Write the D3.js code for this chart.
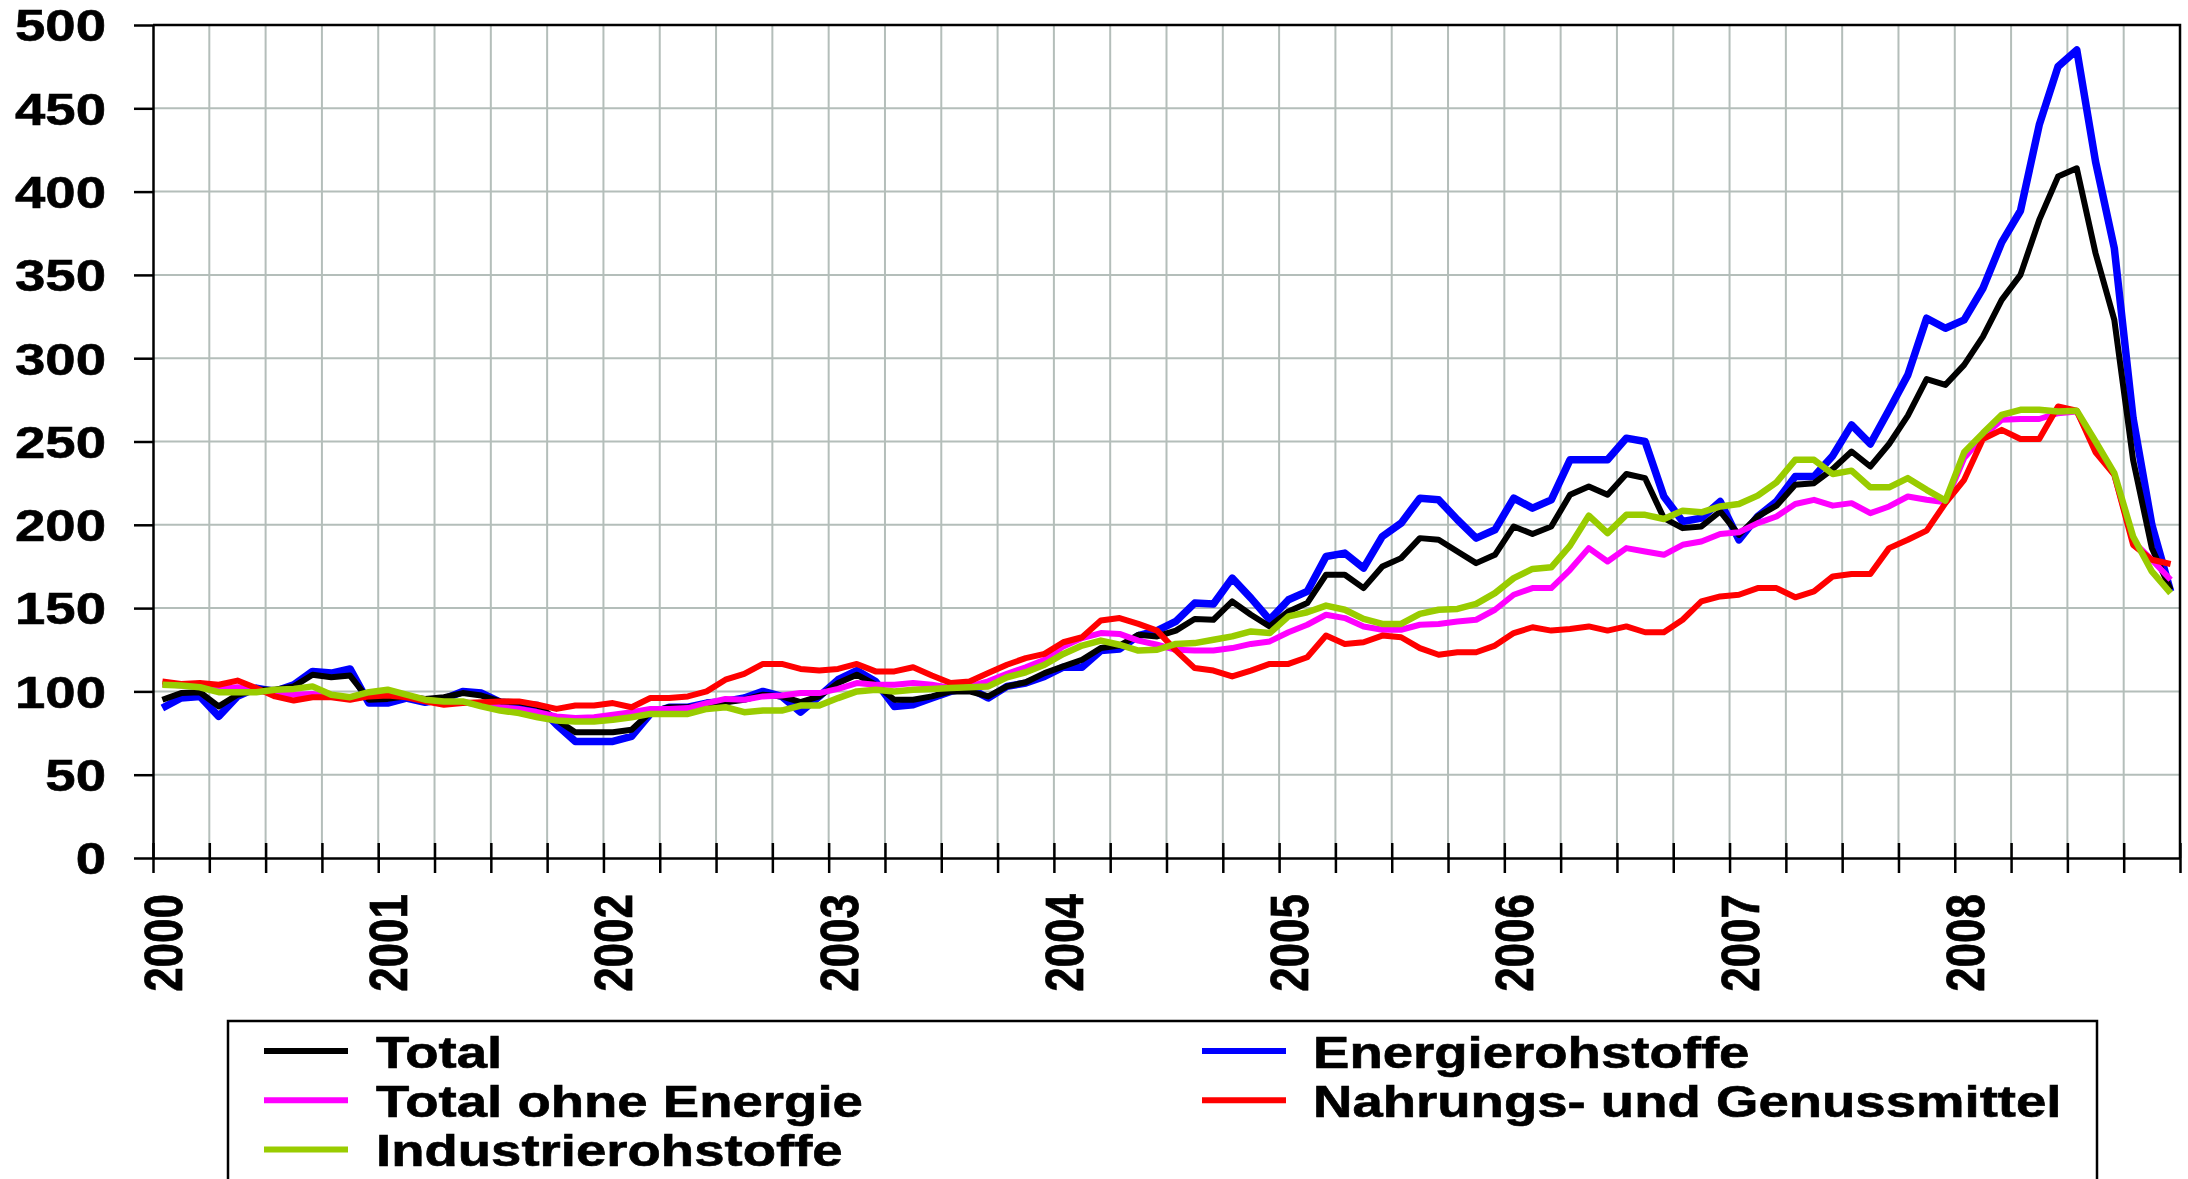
<!DOCTYPE html>
<html>
<head>
<meta charset="utf-8">
<script src="https://cdn.jsdelivr.net/npm/d3@7"></script>
<style>
  body { margin: 0; background: #fff; }
  text { font-family: "Liberation Sans", Arial, sans-serif; font-weight: bold; fill: #000; stroke: #000; stroke-width: 0.6px; }
</style>
</head>
<body>
<script>
// Years on the x axis (one label per January)
var years = ["2000", "2001", "2002", "2003", "2004", "2005", "2006", "2007", "2008"];

// Value axis tick labels
var yTicks = [0, 50, 100, 150, 200, 250, 300, 350, 400, 450, 500];

// Monthly index values, Jan 2000 .. Dec 2008 (one row per year)
var total = [
  95, 99, 99.5, 91, 98, 101, 101, 103, 110, 108.5, 109.5, 95,
  95.5, 97, 95.5, 96.5, 99, 97.5, 94, 93.5, 91.5, 83, 75.5, 75.5,
  75.5, 77, 87.5, 90.5, 90.5, 91.5, 93.5, 95, 98, 97, 93.5, 97,
  105, 110, 104, 95, 95, 97, 100, 100, 97, 103, 105.5, 111,
  115, 119, 126, 127.5, 134, 133, 136.5, 143.5, 143, 154, 146, 139,
  148, 153, 170, 170, 162, 175, 180, 192, 191, 184, 177, 182,
  199, 194.5, 199, 218, 223, 218, 230.5, 228, 204, 198, 199, 208,
  194, 205, 211.5, 224, 225, 233.5, 244, 235, 248.5, 265.5, 287.5, 284,
  296, 313, 335, 350, 383, 409, 414, 363, 323, 239, 186, 161
];
var energie = [
  90, 96, 97, 85, 97, 102, 100, 104, 112, 111, 113.5, 93,
  93, 96, 93.5, 95.5, 100, 99, 93.5, 92.5, 91.5, 80, 70, 70,
  70, 73, 86.5, 90.5, 90.5, 93, 94, 96, 100, 97, 87.5, 97,
  107, 112.5, 106, 91, 92, 96, 100, 102, 96, 103, 105, 109,
  114.5, 114.5, 124.5, 125.5, 133.5, 136.5, 142, 153, 152.5, 168, 156, 143,
  155, 160, 181, 183, 174, 193, 201, 216, 215, 203, 192, 197,
  216, 210, 215, 239, 239, 239, 252, 250, 217, 202, 204, 214,
  191, 205, 214, 229, 229, 241.5, 260, 248.5, 269, 290, 324, 318,
  323, 342, 369.5, 388.5, 440, 475, 485, 418, 366, 264, 200, 160
];
var ohneEnergie = [
  104.5, 103.5, 103.5, 101.5, 102.5, 100, 99.5, 98, 98.5, 97, 96.5, 98.5,
  99, 97.5, 95, 93.5, 93.5, 92, 90.5, 89.5, 87.5, 85, 84, 84.5,
  86, 87.5, 89.5, 89.5, 90, 93, 95.5, 95, 97, 97.5, 99, 99,
  101.5, 105, 104, 104, 105, 104, 102, 103, 106, 110.5, 114.5, 119,
  127, 132, 135, 134.5, 130.5, 128, 125, 124.5, 124.5, 126, 128.5, 130,
  135.5, 140, 146, 144, 139, 137, 137, 140, 140.5, 142, 143, 149,
  158, 162, 162, 173, 186, 178, 186, 184, 182, 188, 190, 194.5,
  195.5, 201, 205, 212.5, 215, 211.5, 213, 207, 211, 217, 215, 213.5,
  240, 253, 263, 263.5, 263.5, 267, 268, 246, 230, 190, 179, 167
];
var nahrung = [
  106, 104.5, 105, 104, 106.5, 102, 97, 94.5, 96.5, 96.5, 95, 97,
  97.5, 96.5, 94, 92, 93, 93.5, 94, 94, 92, 89.5, 91.5, 91.5,
  93, 90.5, 96, 96, 97, 100, 107, 110.5, 116.5, 116.5, 113.5, 112.5,
  113.5, 116.5, 112, 112, 114.5, 109.5, 105, 106, 111, 116, 120, 122.5,
  129.5, 132.5, 142.5, 144, 140.5, 136.5, 124.5, 114, 112.5, 109, 112.5, 116.5,
  116.5, 120.5, 133.5, 128.5, 129.5, 133.5, 132.5, 126, 122, 123.5, 123.5, 127.5,
  135, 138.5, 136.5, 137.5, 139, 136.5, 139, 135.5, 135.5, 143, 154, 157,
  158, 162, 162, 156.5, 160, 169, 170.5, 170.5, 186, 191, 196.5, 213,
  227, 251.5, 257, 251.5, 251.5, 271, 268.5, 243.5, 230, 188, 179, 176.5
];
var industrie = [
  104, 103.5, 102.5, 99.5, 99.5, 99.5, 101, 101.5, 103, 98, 96.5, 99.5,
  101, 98, 95, 94, 94, 91, 88.5, 87, 84.5, 82.5, 82, 82,
  83, 84.5, 86.5, 86.5, 86.5, 89.5, 90.5, 87.5, 88.5, 88.5, 91.5, 91.5,
  96, 100, 101, 100, 101, 101.5, 102, 102.5, 103, 108.5, 111.5, 116,
  122.5, 127.5, 130.5, 128, 124.5, 125, 128.5, 129, 131, 133, 136, 135,
  145, 147.5, 151.5, 149, 143.5, 140.5, 140.5, 146.5, 149, 149.5, 152.5, 159,
  168, 173.5, 174.5, 187.5, 205.5, 195, 206, 206, 203.5, 208.5, 207.5, 211,
  212.5, 217.5, 225.5, 239, 239, 230.5, 232.5, 222.5, 222.5, 228, 221, 214.5,
  243.5, 255, 266, 269, 269, 268, 268.5, 250, 231, 193, 172, 159
];

// Series as listed in the legend (row by row)
var series = [
  { name: "Total", values: total, color: "#000000", width: 6 },
  { name: "Energierohstoffe", values: energie, color: "#0000ff", width: 7.5 },
  { name: "Total ohne Energie", values: ohneEnergie, color: "#ff00ff", width: 6 },
  { name: "Nahrungs- und Genussmittel", values: nahrung, color: "#ff0000", width: 6 },
  { name: "Industrierohstoffe", values: industrie, color: "#99cc00", width: 6.5 }
];
// drawing order, later ones on top
var drawOrder = [1, 0, 2, 3, 4];

var svgWidth = 2188;
var svgHeight = 1179;
var plot = { left: 153, right: 2180, top: 25, bottom: 858 };
var stretch = 1.24;  // the original text is drawn wide
var gridColor = "#b4beba";

var svg = d3.select("body")
  .append("svg")
  .attr("width", svgWidth)
  .attr("height", svgHeight);

var nMonths = years.length * 12;
var xScale = d3.scaleLinear().domain([0, nMonths]).range([plot.left, plot.right]);
var yScale = d3.scaleLinear().domain([0, 500]).range([plot.bottom, plot.top]);

// grid lines: quarters and every 50
var quarters = d3.range(0, nMonths + 1, 3);
svg.append("g")
  .selectAll("line")
  .data(quarters.slice(1, -1))
  .enter()
  .append("line")
  .attr("x1", d => xScale(d))
  .attr("x2", d => xScale(d))
  .attr("y1", plot.top)
  .attr("y2", plot.bottom)
  .attr("stroke", gridColor)
  .attr("stroke-width", 2);

svg.append("g")
  .selectAll("line")
  .data(yTicks.slice(1, -1))
  .enter()
  .append("line")
  .attr("x1", plot.left)
  .attr("x2", plot.right)
  .attr("y1", d => yScale(d))
  .attr("y2", d => yScale(d))
  .attr("stroke", gridColor)
  .attr("stroke-width", 2);

// frame top and right
svg.append("path")
  .attr("d", `M${plot.left},${plot.top}H${plot.right}V${plot.bottom}`)
  .attr("fill", "none")
  .attr("stroke", "#000")
  .attr("stroke-width", 2.5);

// the lines, one point per month in the middle of the month
var line = d3.line()
  .x((d, i) => xScale(i + 0.5))
  .y(d => yScale(d));

svg.append("g")
  .selectAll("path")
  .data(drawOrder.map(i => series[i]))
  .enter()
  .append("path")
  .attr("d", d => line(d.values))
  .attr("fill", "none")
  .attr("stroke", d => d.color)
  .attr("stroke-width", d => d.width)
  .attr("stroke-linejoin", "round");

// y axis
var yAxis = d3.axisLeft(yScale).tickValues(yTicks).tickSize(19).tickSizeOuter(0);
var gy = svg.append("g")
  .attr("transform", `translate(${plot.left},0)`)
  .call(yAxis);
gy.select(".domain").attr("stroke-width", 2.5);
gy.selectAll(".tick line").attr("stroke-width", 2.5);
gy.selectAll(".tick text")
  .attr("x", 0)
  .attr("dy", "0.36em")
  .attr("transform", `translate(-47,0) scale(${stretch},1)`)
  .style("font-size", "44px");

// x axis, ticks every quarter crossing the axis
var xAxis = d3.axisBottom(xScale).tickValues(quarters).tickSize(15).tickSizeOuter(0).tickFormat("");
var gx = svg.append("g")
  .attr("transform", `translate(0,${plot.bottom})`)
  .call(xAxis);
gx.select(".domain").attr("stroke-width", 2.5);
gx.selectAll(".tick line").attr("y1", -15).attr("stroke-width", 2.5);

// year labels, rotated, centred on January
svg.append("g")
  .selectAll("text")
  .data(years)
  .enter()
  .append("text")
  .attr("transform", (d, i) => `translate(${xScale(i * 12 + 0.5)},894) scale(${stretch},1) rotate(-90)`)
  .attr("text-anchor", "end")
  .attr("dy", "0.36em")
  .style("font-size", "44px")
  .text(d => d);

// legend
var legend = svg.append("g");
legend.append("rect")
  .attr("x", 228)
  .attr("y", 1021)
  .attr("width", 1869)
  .attr("height", 220)
  .attr("fill", "none")
  .attr("stroke", "#000")
  .attr("stroke-width", 2.5);

var legendItems = legend.selectAll(".item")
  .data(series)
  .enter()
  .append("g")
  .attr("class", "item")
  .attr("transform", (d, i) => `translate(${i % 2 ? 1202 : 264},${1051 + Math.floor(i / 2) * 49.2})`);

legendItems.append("line")
  .attr("x1", 0)
  .attr("x2", 84)
  .attr("stroke", d => d.color)
  .attr("stroke-width", 6);

legendItems.append("text")
  .attr("transform", (d, i) => `translate(${i % 2 ? 111 : 112},0) scale(${stretch},1)`)
  .attr("dy", "0.38em")
  .style("font-size", "44px")
  .text(d => d.name);
</script>
</body>
</html>
